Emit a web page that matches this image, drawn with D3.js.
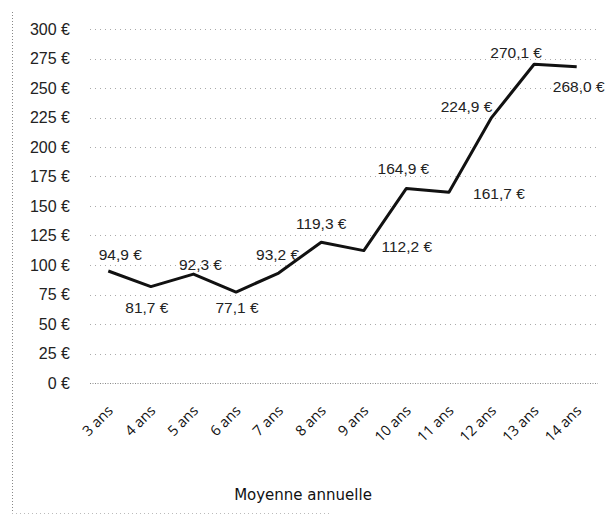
<!DOCTYPE html>
<html>
<head>
<meta charset="utf-8">
<script src="https://cdn.jsdelivr.net/npm/d3@7"></script>
<style>
  body { margin: 0; background: #fff; }
  svg { display: block; font-family: "Liberation Sans", Arial, sans-serif; }
</style>
</head>
<body>
<div id="chart"></div>
<script>
// Data
const categories = ["3 ans", "4 ans", "5 ans", "6 ans", "7 ans", "8 ans", "9 ans", "10 ans", "11 ans", "12 ans", "13 ans", "14 ans"];
const values = [94.9, 81.7, 92.3, 77.1, 93.2, 119.3, 112.2, 164.9, 161.7, 224.9, 270.1, 268.0];
const yTicks = [0, 25, 50, 75, 100, 125, 150, 175, 200, 225, 250, 275, 300];
const seriesName = "Moyenne annuelle";

// label offsets relative to each point (style only)
const labelPos = [
  [12, -16], [-4, 21], [7, -10], [1, 16], [-1, -18], [0, -19],
  [43, -4], [-3, -20], [50, 1], [-25, -11], [-18, -12], [2, 20]
];

const width = 607, height = 515;
const margin = { top: 29, right: 9, bottom: 132, left: 87 };

const svg = d3.select("#chart").append("svg")
  .attr("width", width)
  .attr("height", height);

const x = d3.scaleBand()
  .domain(categories)
  .range([margin.left, width - margin.right]);

const y = d3.scaleLinear()
  .domain([0, 300])
  .range([height - margin.bottom, margin.top]);

const fmt = v => d3.format(".1f")(v).replace(".", ",") + " €";

// frame (dotted, as in the scan)
svg.append("line")
  .attr("x1", 12.5).attr("x2", 12.5)
  .attr("y1", 12).attr("y2", 514)
  .attr("stroke", "#888").attr("stroke-dasharray", "1,2");
svg.append("line")
  .attr("x1", 12).attr("x2", 330)
  .attr("y1", 513.5).attr("y2", 513.5)
  .attr("stroke", "#bbb").attr("stroke-dasharray", "1,3");

// gridlines
svg.append("g")
  .selectAll("line")
  .data(yTicks)
  .join("line")
  .attr("x1", margin.left + 3)
  .attr("x2", width - margin.right)
  .attr("y1", d => Math.round(y(d)) + 0.5)
  .attr("y2", d => Math.round(y(d)) + 0.5)
  .attr("stroke", d => d === 0 ? "#888" : "#aaa")
  .attr("stroke-dasharray", d => d === 0 ? "1,1.5" : "1,4");

// y axis labels
const yAxis = svg.append("g")
  .attr("transform", "translate(70,0)")
  .call(d3.axisLeft(y).tickValues(yTicks).tickSize(0).tickPadding(0).tickFormat(d => d + " €"));
yAxis.select(".domain").remove();
yAxis.selectAll("text")
  .attr("font-size", 16)
  .attr("fill", "#222")
  .attr("font-family", "Liberation Sans, Arial, sans-serif");

// x axis labels, rotated
const xAxis = svg.append("g")
  .attr("transform", "translate(0,408)")
  .call(d3.axisBottom(x).tickSize(0).tickPadding(0));
xAxis.select(".domain").remove();
xAxis.selectAll("text")
  .attr("font-size", 14.5)
  .attr("fill", "#111")
  .attr("font-family", "Open Sans, sans-serif")
  .attr("text-anchor", "end")
  .attr("dy", "0.35em")
  .attr("transform", "translate(2,0) rotate(-45)");

// line
const line = d3.line()
  .x((d, i) => x(categories[i]) + x.bandwidth() / 2)
  .y(d => y(d));

svg.append("path")
  .datum(values)
  .attr("fill", "none")
  .attr("stroke", "#111")
  .attr("stroke-width", 3)
  .attr("stroke-linejoin", "round")
  .attr("d", line);

// data labels
svg.append("g")
  .selectAll("text")
  .data(values)
  .join("text")
  .attr("x", (d, i) => x(categories[i]) + x.bandwidth() / 2 + labelPos[i][0])
  .attr("y", (d, i) => y(d) + labelPos[i][1])
  .attr("text-anchor", "middle")
  .attr("dy", "0.35em")
  .attr("font-size", 15.5)
  .attr("fill", "#222")
  .text(fmt);

// series name
svg.append("text")
  .attr("x", 303)
  .attr("y", 495)
  .attr("text-anchor", "middle")
  .attr("dy", "0.35em")
  .attr("font-size", 15)
  .attr("font-family", "DejaVu Sans, sans-serif")
  .attr("fill", "#111")
  .text(seriesName);
</script>
</body>
</html>
